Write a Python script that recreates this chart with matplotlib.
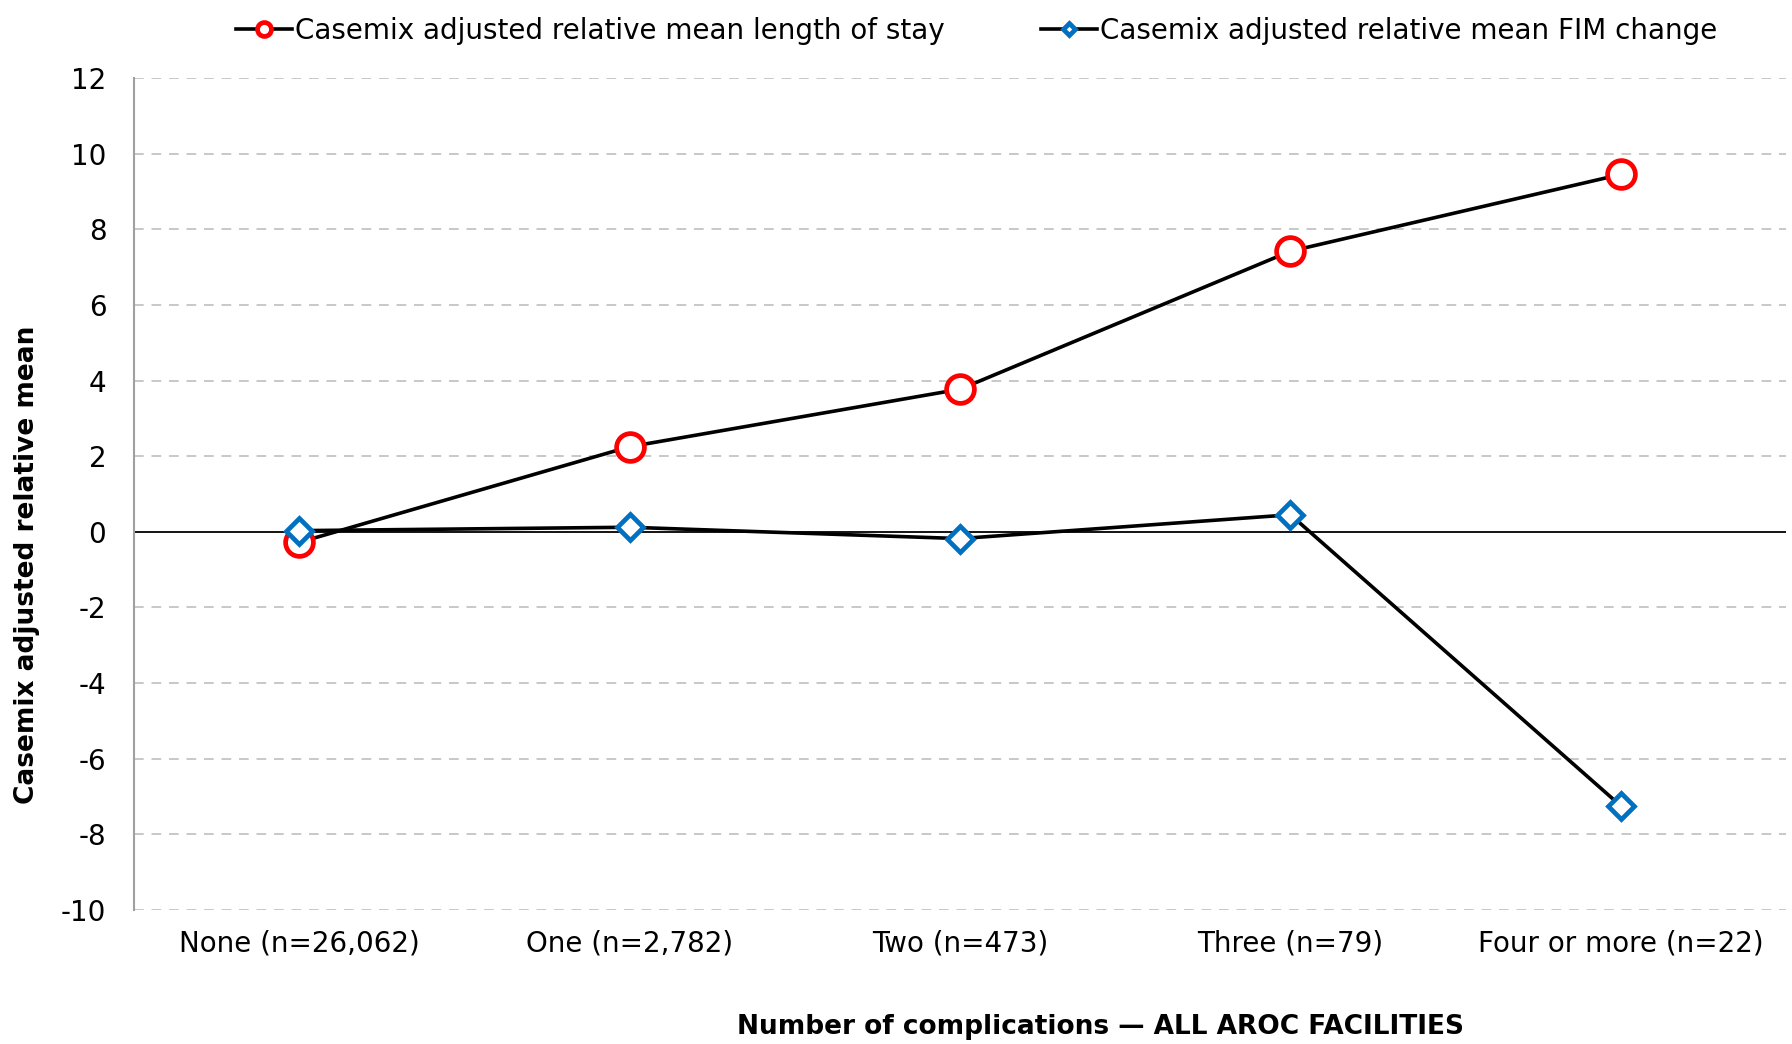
import matplotlib
matplotlib.use("Agg")
import matplotlib.pyplot as plt

# data
categories = ["None (n=26,062)", "One (n=2,782)", "Two (n=473)", "Three (n=79)", "Four or more (n=22)"]
los_mean = [-0.28, 2.25, 3.77, 7.42, 9.45]
fim_mean = [0.03, 0.12, -0.18, 0.45, -7.25]
yticks = list(range(-10, 13, 2))

plt.rcParams["font.family"] = ["DejaVu Sans"]
plt.rcParams["axes.unicode_minus"] = False

fig = plt.figure(figsize=(17.92, 10.44), dpi=100)
ax = fig.add_axes([0.0748, 0.1284, 0.9219, 0.7969])

x = list(range(len(categories)))

# grid lines
for t in yticks:
    if t == 0:
        ax.axhline(0, color="black", lw=1.3, zorder=1)
    else:
        ax.axhline(t, color="#c8c8c8", lw=1.4, ls=(0, (5, 4)), zorder=0)

ax.plot(x, los_mean, color="black", lw=2.6, marker="o", ms=20, mfc="white",
        mec="#ff0000", mew=3.4, label="Casemix adjusted relative mean length of stay", zorder=3)
ax.plot(x, fim_mean, color="black", lw=2.6, marker="D", ms=13, mfc="white",
        mec="#0070c0", mew=3.4, label="Casemix adjusted relative mean FIM change", zorder=4)

ax.set_xlim(-0.5, len(categories) - 0.5)
ax.set_ylim(-10, 12)
ax.set_yticks(yticks)
ax.set_xticks(x)
ax.set_xticklabels(categories, fontsize=20)
ax.tick_params(axis="y", labelsize=20, length=0, pad=20)
ax.tick_params(axis="x", length=0, pad=14)

for s in ["top", "right", "bottom"]:
    ax.spines[s].set_visible(False)
ax.spines["left"].set_color("#a0a0a0")
ax.spines["left"].set_linewidth(1.5)

ax.set_ylabel("Casemix adjusted relative mean", fontsize=19, fontweight="bold")
ax.yaxis.set_label_coords(-0.057, 0.415)
ax.set_xlabel("Number of complications \u2014 ALL AROC FACILITIES", fontsize=19,
              fontweight="bold")
ax.xaxis.set_label_coords(0.585, -0.125)

fig.legend(loc="upper center", bbox_to_anchor=(0.545, 1.008), ncol=2, frameon=False,
           fontsize=20, handlelength=2.0, handletextpad=0.1, columnspacing=3.5,
           markerscale=0.5)

fig.savefig("out.png", dpi=100)
